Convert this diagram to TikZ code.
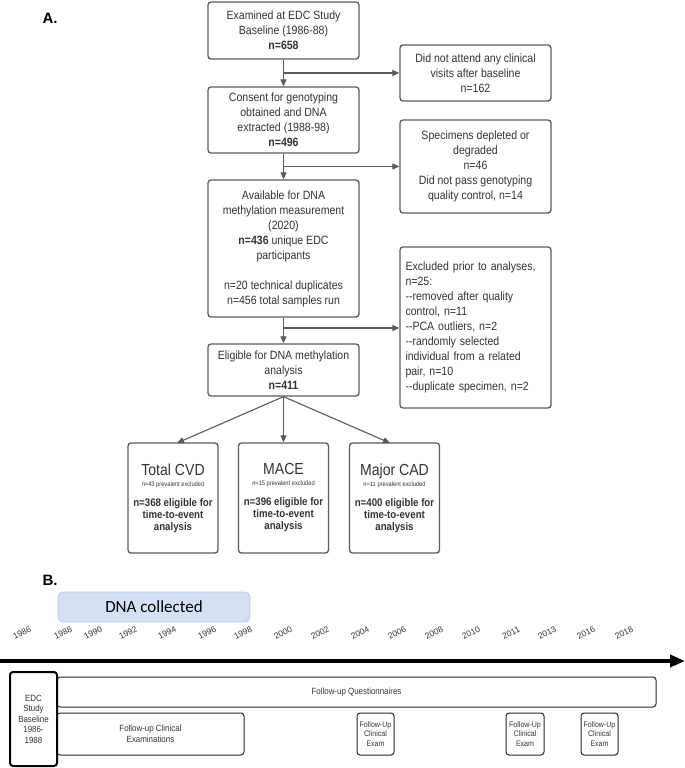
\documentclass[tikz,border=0pt]{standalone}
\usepackage{fontspec}
\setmainfont{Liberation Sans}
\newfontfamily\narfont[FakeStretch=0.88]{Liberation Sans}
\newfontfamily\carlitofont{Carlito}
\usetikzlibrary{arrows.meta}
\definecolor{bordergray}{HTML}{5A5A5A}
\definecolor{textgray}{HTML}{333333}
\definecolor{dnafill}{HTML}{D6E0F5}
\definecolor{dnaborder}{HTML}{B8C8E8}
\tikzset{
  box/.style={draw=bordergray, line width=1.3pt, rounded corners=3pt, inner sep=2pt, align=center,
    font=\narfont\fontsize{12}{15}\selectfont, text=textgray},
  outbox/.style={draw=bordergray, line width=1.3pt, rounded corners=3pt, inner sep=2pt, align=center,
    font=\narfont\fontsize{12}{15}\selectfont, text=textgray, minimum width=151pt},
  arr/.style={draw=bordergray, line width=1.1pt, -{Triangle[length=7pt,width=6pt]}},
  ybox/.style={draw=bordergray, line width=1.3pt, rounded corners=3pt, inner sep=2pt, align=center,
    font=\narfont\fontsize{11}{12}\selectfont, text=textgray, minimum width=90pt, minimum height=110pt},
  tl/.style={draw=black!85, line width=1pt, rounded corners=3pt, align=center, inner sep=1pt,
    font=\narfont\fontsize{9}{10.5}\selectfont, text=textgray},
  yr/.style={rotate=27, font=\fontsize{8.5}{9}\selectfont, text=textgray, inner sep=0pt},
  lbl/.style={font=\bfseries\fontsize{15}{16}\selectfont, text=black}
}
\begin{document}
\begin{tikzpicture}[x=1pt,y=-1pt]
\useasboundingbox (0,0) rectangle (685,768);
% Panel A
\node[lbl] (A) at (50,18) {A.};
\node[box, minimum width=151pt, minimum height=57pt] (b1) at (283.5,30.5)
  {Examined at EDC Study\\Baseline (1986-88)\\\textbf{n=658}};
\node[box, minimum width=151pt, minimum height=66pt] (b2) at (283.5,120)
  {Consent for genotyping\\obtained and DNA\\extracted (1988-98)\\\textbf{n=496}};
\node[box, minimum width=151pt, minimum height=137pt] (b3) at (283.5,248.5)
  {Available for DNA\\methylation measurement\\(2020)\\\textbf{n=436} unique EDC\\participants\\[15pt]n=20 technical duplicates\\n=456 total samples run};
\node[box, minimum width=151pt, minimum height=52pt] (b4) at (283.5,370)
  {Eligible for DNA methylation\\analysis\\\textbf{n=411}};
\node[outbox, minimum height=56pt] (r1) at (475.5,73)
  {Did not attend any clinical\\visits after baseline\\n=162};
\node[outbox, minimum height=93pt] (r2) at (475.5,166.5)
  {Specimens depleted or\\degraded\\n=46\\Did not pass genotyping\\quality control, n=14};
\node[outbox, minimum height=161pt, align=left, text width=140pt, inner sep=4pt] (r3) at (475.5,327.5)
  {Excluded prior to analyses,\\n=25:\\--removed after quality\\control, n=11\\--PCA outliers, n=2\\--randomly selected\\individual from a related\\pair, n=10\\--duplicate specimen, n=2};
\coordinate (j1) at (283.5,73);
\coordinate (j2) at (283.5,166.5);
\coordinate (j3) at (283.5,328);
\draw[arr] (b1) -- (b2);
\draw[arr] (b2) -- (b3);
\draw[arr] (b3) -- (b4);
\draw[arr] (j1) -- (r1.west);
\draw[arr] (j2) -- (r2.west);
\draw[arr] (j3) -- (r3.west |- j3);
% outcome boxes
\node[ybox] (cvd) at (173,498)
  {{\fontsize{16}{18}\selectfont Total CVD}\\[-1pt]{\fontsize{6.5}{8}\selectfont n=43 prevalent excluded}\\[8pt]\textbf{n=368 eligible for}\\\textbf{time-to-event}\\\textbf{analysis}};
\node[ybox] (mace) at (283.5,498)
  {{\fontsize{16}{18}\selectfont MACE}\\[-1pt]{\fontsize{6.5}{8}\selectfont n=15 prevalent excluded}\\[8pt]\textbf{n=396 eligible for}\\\textbf{time-to-event}\\\textbf{analysis}};
\node[ybox] (cad) at (394.5,498)
  {{\fontsize{16}{18}\selectfont Major CAD}\\[-1pt]{\fontsize{6.5}{8}\selectfont n=11 prevalent excluded}\\[8pt]\textbf{n=400 eligible for}\\\textbf{time-to-event}\\\textbf{analysis}};
\coordinate (c1) at (177,443);
\coordinate (c3) at (390,443);
\draw[arr] (b4.south) -- (c1);
\draw[arr] (b4.south) -- (mace.north);
\draw[arr] (b4.south) -- (c3);
% Panel B
\node[lbl] (B) at (50,580) {B.};
\node[draw=dnaborder, fill=dnafill, line width=0.8pt, rounded corners=5pt, minimum width=192pt, minimum height=30pt,
  font=\carlitofont\fontsize{17}{18}\selectfont, text=black] (dna) at (154,607) {DNA collected};
\foreach \x/\y in {22/1986,63/1988,93/1990,128/1992,167/1994,207/1996,243/1998,283/2000,320/2002,
  360/2004,397/2006,434/2008,471/2010,511/2011,547/2013,586/2016,624/2018}
  \node[yr] (y\y) at (\x,633) {\y};
\coordinate (tl0) at (0,661);
\coordinate (tl1) at (685,661);
\draw[line width=4pt, -{Triangle[length=15pt,width=12pt]}] (tl0) -- (tl1);
\node[tl, minimum width=599pt, minimum height=30pt] (quest) at (356.5,692) {Follow-up Questionnaires};
\node[tl, minimum width=187pt, minimum height=42pt] (clin) at (150.5,734) {Follow-up Clinical\\Examinations};
\node[tl, draw=black, fill=white, line width=2pt, minimum width=47pt, minimum height=94pt] (edc) at (33.5,719)
  {EDC\\Study\\Baseline\\1986-\\1988};
\node[tl, minimum width=37pt, minimum height=42pt, font=\narfont\fontsize{8}{9.7}\selectfont] (e1) at (375.5,734) {Follow-Up\\Clinical\\Exam};
\node[tl, minimum width=38pt, minimum height=42pt, font=\narfont\fontsize{8}{9.7}\selectfont] (e2) at (525,734) {Follow-Up\\Clinical\\Exam};
\node[tl, minimum width=37pt, minimum height=42pt, font=\narfont\fontsize{8}{9.7}\selectfont] (e3) at (599.5,734) {Follow-Up\\Clinical\\Exam};
\end{tikzpicture}
\end{document}
